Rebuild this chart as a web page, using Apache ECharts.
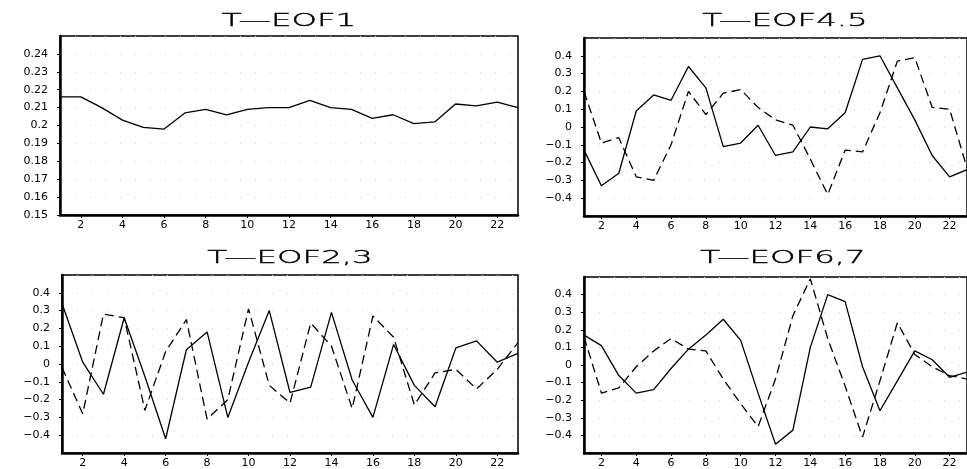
<!DOCTYPE html>
<html><head><meta charset="utf-8">
<script src="https://cdn.jsdelivr.net/npm/echarts@6/dist/echarts.min.js"></script>
<style>html,body{margin:0;padding:0;background:#fff;}#c{width:967px;height:469px;}</style>
</head><body><div id="c"></div>
<script>
// time steps (x categories)
const steps = [1,2,3,4,5,6,7,8,9,10,11,12,13,14,15,16,17,18,19,20,21,22,23];

// T-EOF1
const tEof1 = [0.216,0.216,0.210,0.203,0.199,0.198,0.207,0.209,0.206,0.209,0.210,0.210,0.214,0.210,0.209,0.204,0.206,0.201,0.202,0.212,0.211,0.213,0.210];

// T-EOF4,5
const tEof4 = [-0.13,-0.33,-0.26,0.09,0.18,0.15,0.34,0.22,-0.11,-0.09,0.01,-0.16,-0.14,0.00,-0.01,0.08,0.38,0.40,0.22,0.04,-0.16,-0.28,-0.24];
const tEof5 = [0.20,-0.09,-0.06,-0.28,-0.30,-0.10,0.20,0.07,0.19,0.21,0.11,0.04,0.01,-0.18,-0.38,-0.13,-0.14,0.08,0.37,0.39,0.11,0.10,-0.23];

// T-EOF2,3
const tEof2 = [0.34,0.01,-0.17,0.26,-0.07,-0.42,0.08,0.18,-0.30,0.01,0.30,-0.16,-0.13,0.29,-0.09,-0.30,0.11,-0.12,-0.24,0.09,0.13,0.01,0.06];
const tEof3 = [-0.02,-0.28,0.28,0.26,-0.26,0.07,0.25,-0.31,-0.20,0.31,-0.12,-0.22,0.23,0.10,-0.25,0.27,0.15,-0.23,-0.05,-0.03,-0.14,-0.03,0.12];

// T-EOF6,7
const tEof6 = [0.17,0.11,-0.06,-0.16,-0.14,-0.02,0.09,0.17,0.26,0.14,-0.16,-0.45,-0.37,0.10,0.40,0.36,-0.01,-0.26,-0.09,0.08,0.03,-0.07,-0.04];
const tEof7 = [0.16,-0.16,-0.13,-0.01,0.08,0.15,0.09,0.08,-0.08,-0.22,-0.35,-0.08,0.28,0.49,0.15,-0.12,-0.41,-0.09,0.24,0.06,-0.01,-0.06,-0.08];

const panelTitles = ['T\u2014EOF1','T\u2014EOF4.5','T\u2014EOF2,3','T\u2014EOF6,7'];
const panelSolid = [tEof1, tEof4, tEof2, tEof6];
const panelDashed = [null, tEof5, tEof3, tEof7];

const grids = [
  {left:60, top:36, width:458, height:179},
  {left:584, top:38, width:391, height:178},
  {left:62, top:275, width:456, height:180},
  {left:584, top:277, width:391, height:179}
];
const yRanges = [
  {min:0.15, max:0.25, interval:0.01, showMin:true},
  {min:-0.5, max:0.5, interval:0.1, showMin:false},
  {min:-0.5, max:0.5, interval:0.1, showMin:false},
  {min:-0.5, max:0.5, interval:0.1, showMin:false}
];
const titlePos = [[289,21],[785,21],[290,258],[783,258]];

const evenOnly = (i, v) => Number(v) % 2 === 0;
const fmtY = v => parseFloat(v.toFixed(2)).toString().replace('-', '\u2212');
const font = 'DejaVu Sans';

const chart = echarts.init(document.getElementById('c'), null, {renderer:'canvas'});

const series = [];
panelSolid.forEach((d, i) => {
  series.push({type:'line', xAxisIndex:i, yAxisIndex:i, data:d, symbol:'none', silent:true,
    lineStyle:{color:'#000', width:1.3}});
  if (panelDashed[i]) series.push({type:'line', xAxisIndex:i, yAxisIndex:i, data:panelDashed[i], symbol:'none', silent:true,
    lineStyle:{color:'#000', width:1.3, type:[9,5]}});
});

chart.setOption({
  animation:false,
  backgroundColor:'#fff',
  grid: grids.map(g => Object.assign({show:true, borderColor:'#000', borderWidth:1.5, backgroundColor:'transparent'}, g)),
  xAxis: grids.map((g, i) => ({
    gridIndex:i, type:'category', data:steps.map(String), boundaryGap:false,
    axisLine:{show:true, onZero:false, lineStyle:{color:'#000', width:2.5}},
    axisTick:{show:true, interval:evenOnly, length:3, lineStyle:{color:'#000'}},
    axisLabel:{interval:evenOnly, color:'#000', fontSize:11, margin:5, fontFamily:font},
    splitLine:{show:false}
  })),
  yAxis: yRanges.map((r, i) => ({
    gridIndex:i, type:'value', min:r.min, max:r.max, interval:r.interval,
    axisLine:{show:true, onZero:false, lineStyle:{color:'#000', width:2.5}},
    axisTick:{show:true, length:3, lineStyle:{color:'#000'}},
    axisLabel:{showMinLabel:r.showMin, showMaxLabel:false, formatter:fmtY, color:'#000', fontSize:11, margin:12, fontFamily:font},
    splitLine:{show:true, lineStyle:{color:'#d0d0d0', type:[1,14], width:1}}
  })),
  graphic: panelTitles.map((t, i) => ({
    type:'text', x:titlePos[i][0], y:titlePos[i][1], scaleX:1.8, scaleY:1,
    style:{text:t, font:'200 18px "' + font + '"', fill:'#000', stroke:'#000', lineWidth:0.4,
      align:'center', verticalAlign:'middle', textAlign:'center', textVerticalAlign:'middle'}
  })),
  series: series
});
</script>
</body></html>
